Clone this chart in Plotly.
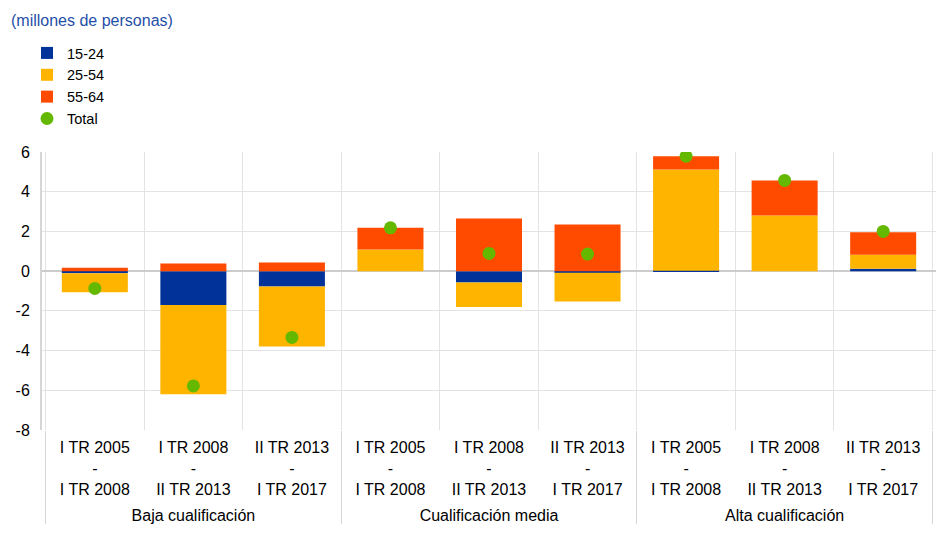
import plotly.graph_objects as go

groups = ["Baja cualificación", "Cualificación media", "Alta cualificación"]
periods = ["I TR 2005<br>-<br>I TR 2008<br><sup>\u00a0</sup>",
           "I TR 2008<br>-<br>II TR 2013<br><sup>\u00a0</sup>",
           "II TR 2013<br>-<br>I TR 2017<br><sup>\u00a0</sup>"]

outer = [g for g in groups for _ in periods]
inner = [p for _ in groups for p in periods]

age_15_24 = [-0.10, -1.71, -0.77, 0.00, -0.57, -0.08, 0.02, 0.00, 0.12]
age_25_54 = [-0.96, -4.49, -3.03, 1.09, -1.23, -1.45, 5.10, 2.80, 0.70]
age_55_64 = [0.17, 0.39, 0.44, 1.09, 2.65, 2.35, 0.66, 1.77, 1.14]
total = [-0.87, -5.78, -3.34, 2.18, 0.89, 0.86, 5.79, 4.57, 2.00]

y_ticks = [-8, -6, -4, -2, 0, 2, 4, 6]
y_tick_labels = ["-8", "-6", "-4", "-2", "0", "2", "4", "6"]

FONT = "Arial, Liberation Sans, sans-serif"
W, H = 937, 536
ML, MR, MT, MB = 42, 1, 152, 106
PW, PH = W - ML - MR, H - MT - MB

fig = go.Figure()
fig.add_trace(go.Bar(x=[outer, inner], y=age_15_24, name="15-24", marker_color="#003299", marker_line_width=0))
fig.add_trace(go.Bar(x=[outer, inner], y=age_25_54, name="25-54", marker_color="#ffb400", marker_line_width=0))
fig.add_trace(go.Bar(x=[outer, inner], y=age_55_64, name="55-64", marker_color="#ff4b00", marker_line_width=0))
fig.add_trace(go.Scatter(x=[outer, inner], y=total, name="Total", mode="markers",
                         marker=dict(color="#65b800", size=13)))

fig.update_layout(
    width=W, height=H,
    barmode="relative",
    bargap=0.33,
    plot_bgcolor="white", paper_bgcolor="white",
    margin=dict(l=ML, r=MR, t=MT, b=MB, autoexpand=False),
    font=dict(family=FONT, size=16, color="#000000"),
    showlegend=True,
    legend=dict(xref="container", yref="container", x=27/W, y=1-37/H,
                xanchor="left", yanchor="top", bgcolor="rgba(0,0,0,0)",
                font=dict(size=14.5), tracegroupgap=0),
    annotations=[dict(text="(millones de personas)", xref="paper", yref="paper",
                      x=(9-ML)/PW, y=(H-MB-20)/PH, xanchor="left", yanchor="middle", showarrow=False,
                      font=dict(size=16, color="#1f4fa8"))],
)

fig.update_yaxes(range=[-8, 6], tickvals=y_ticks, ticktext=y_tick_labels,
                 gridcolor="#e3e3e3", gridwidth=1,
                 zeroline=True, zerolinecolor="#cccccc", zerolinewidth=2,
                 showline=True, linecolor="#d6d6d6", linewidth=2, automargin=False,
                 ticks="", tickfont=dict(size=16), ticklabelstandoff=7)
fig.update_xaxes(tickson="boundaries", showgrid=True, gridcolor="#e3e3e3", gridwidth=1,
                 ticks="", showdividers=True, dividercolor="#d6d6d6", dividerwidth=1,
                 automargin=False, tickfont=dict(size=16), ticklabelstandoff=6)

fig.write_html("out.html", config={"displayModeBar": False},
               post_script="document.body.style.margin='0';")
